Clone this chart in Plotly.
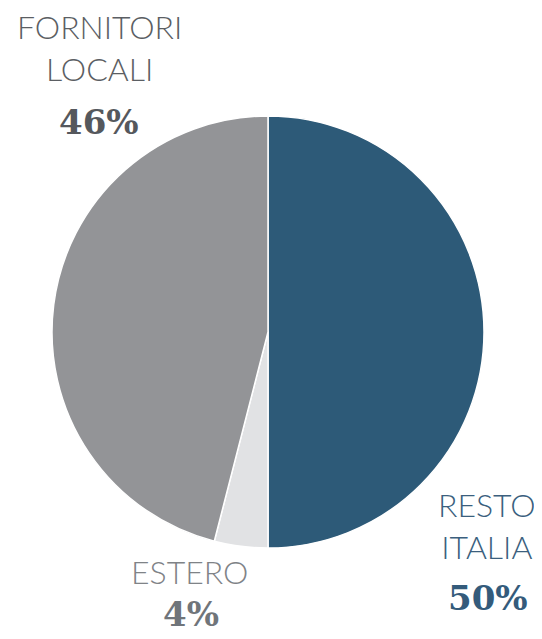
import plotly.graph_objects as go

W, H = 542, 639
OFF = 8  # page body margin offset
FW, FH = W - OFF, H - OFF

# Data
categories = ["RESTO ITALIA", "ESTERO", "FORNITORI LOCALI"]
label_lines = ["RESTO<br>ITALIA", "ESTERO", "FORNITORI<br>LOCALI"]
values = [50, 4, 46]
slice_colors = ["#2d5a78", "#e1e2e4", "#939497"]
name_colors = ["#3b5f7e", "#7f8387", "#5b5e63"]
pct_colors = ["#345b7b", "#70757a", "#55585d"]

# label layout (pixel centers in window coords)
name_pos = [(487, 525), (189, 571), (99, 48)]
pct_pos = [(488, 598), (191, 614), (99, 122)]

cx, cy, r = 268, 332, 216

def px(x, y):
    return (x - OFF) / FW, 1 - (y - OFF) / FH

x0, y1 = px(cx - r, cy - r)
x1, y0 = px(cx + r, cy + r)

fig = go.Figure(go.Pie(
    labels=categories,
    values=values,
    sort=False,
    direction="clockwise",
    rotation=0,
    textinfo="none",
    hoverinfo="label+percent",
    marker=dict(colors=slice_colors, line=dict(color="white", width=1.5)),
    domain=dict(x=[x0, x1], y=[y0, y1]),
    showlegend=False,
))

annotations = []
total = sum(values)
for i, cat in enumerate(categories):
    x, y = px(*name_pos[i])
    annotations.append(dict(
        x=x, y=y, xref="paper", yref="paper", xanchor="center", yanchor="middle",
        text=label_lines[i], showarrow=False, align="center",
        font=dict(family="Lato", size=32, color=name_colors[i], weight=300),
    ))
    x, y = px(*pct_pos[i])
    annotations.append(dict(
        x=x, y=y, xref="paper", yref="paper", xanchor="center", yanchor="middle",
        text=f"{round(values[i] / total * 100)}%", showarrow=False,
        font=dict(family="DejaVu Serif", size=34, color=pct_colors[i], weight="bold"),
    ))

fig.update_layout(
    width=FW, height=FH,
    margin=dict(l=0, r=0, t=0, b=0),
    paper_bgcolor="white", plot_bgcolor="white",
    annotations=annotations,
)

fig.write_html("out.html")
